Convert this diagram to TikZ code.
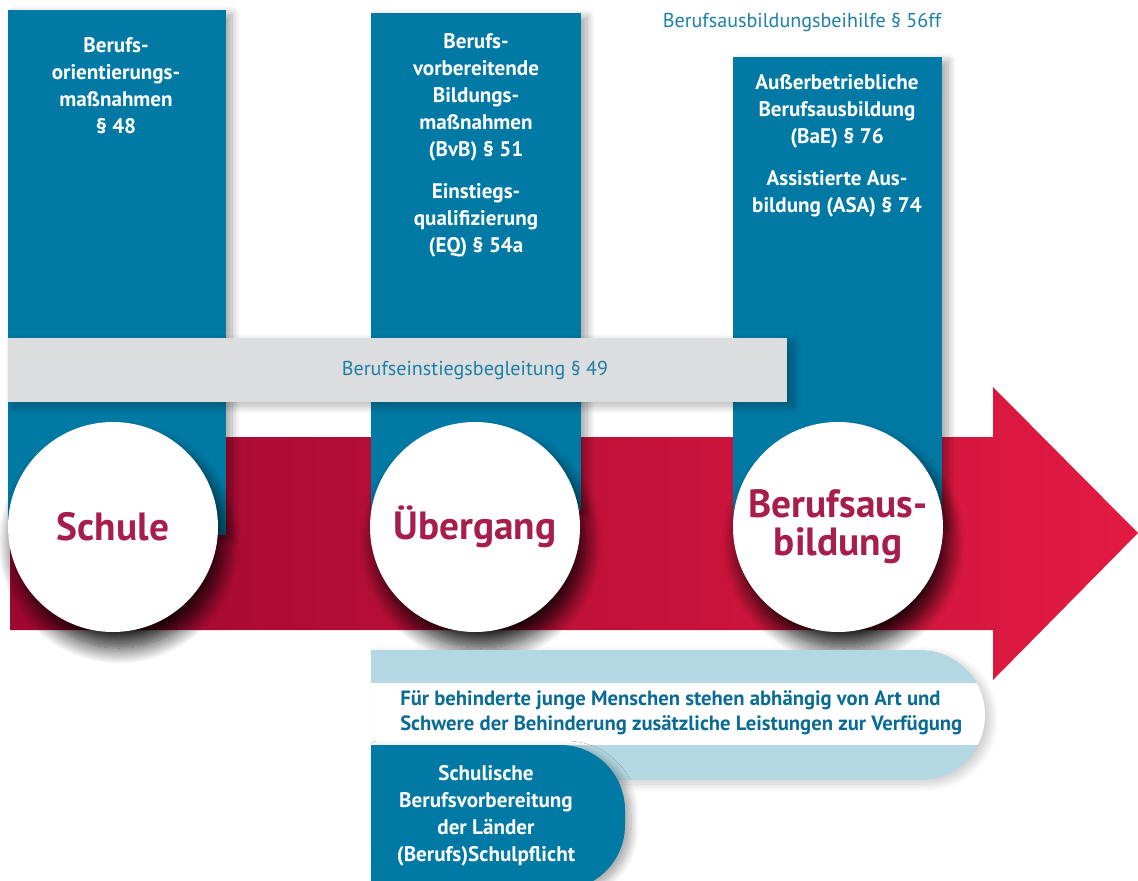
\documentclass[tikz,border=0pt]{standalone}
\usepackage{fontspec}
\setmainfont{PT Sans}
\usetikzlibrary{positioning,shadows.blur}
\definecolor{boxblue}{RGB}{0,121,164}
\definecolor{barcol}{RGB}{220,221,223}
\definecolor{paleblue}{RGB}{179,216,227}
\definecolor{noteblue}{RGB}{28,127,166}
\definecolor{hintblue}{RGB}{10,108,148}
\definecolor{stationred}{RGB}{167,30,74}
\definecolor{arrowdark}{RGB}{158,8,48}
\definecolor{arrowlight}{RGB}{226,26,66}
\tikzset{
  softshadow/.style={blur shadow={shadow xshift=1.5mm, shadow yshift=-1mm, shadow blur radius=2mm,
    shadow blur steps=10, shadow opacity=#1}},
  softshadow/.default=35,
  pillar/.style={fill=boxblue, softshadow},
  pillartext/.style={text=white, font=\bfseries\fontsize{15}{19.2}\selectfont, align=center, inner sep=0pt},
  station/.style={circle, fill=white, minimum size=52.5mm, inner sep=0pt, text=stationred,
    font=\bfseries\fontsize{28}{27}\selectfont, align=center,
    blur shadow={shadow xshift=1.5mm, shadow yshift=-4mm, shadow blur radius=4mm,
      shadow blur steps=16, shadow opacity=85}},
  note/.style={text=noteblue, font=\fontsize{14.3}{17}\selectfont, inner sep=0pt},
}
\begin{document}
\begin{tikzpicture}[x=0.25mm,y=-0.25mm]
\useasboundingbox (0,0) rectangle (1138,880);
% the long arrow
\shade[left color=arrowdark, right color=arrowlight] (10,437) -- (993,437) -- (993,387) -- (1138,533)
  -- (993,680) -- (993,630) -- (10,630) -- cycle;
% pillars
\fill[pillar] (8,10) rectangle (226,535);
\fill[pillar] (371,13) rectangle (581,510);
\fill[pillar] (733,57) rectangle (942,525);
\node[pillartext, anchor=north] (bom) at (116,37) {Berufs-\\orientierungs-\\maßnahmen\\\S~48};
\node[pillartext, anchor=north] (bvb) at (476,33) {Berufs-\\vorbereitende\\Bildungs-\\maßnahmen\\(BvB) \S~51};
\node[pillartext, below=5.5mm of bvb] (eq) {Einstiegs-\\qualifizierung\\(EQ) \S~54a};
\node[pillartext, anchor=north] (bae) at (837,74) {Außerbetriebliche\\Berufsausbildung\\(BaE) \S~76};
\node[pillartext, below=5.5mm of bae] (asa) {Assistierte Aus-\\bildung (ASA) \S~74};
\node[note] (bab) at (802,22) {Berufsausbildungsbeihilfe \S~56ff};
% bar
\fill[barcol, softshadow=30] (8,338) rectangle (787,402);
\node[note] (beb) at (475,370) {Berufseinstiegsbegleitung \S~49};
% stations
\node[station] (schule) at (113,527) {Schule};
\node[station] (uebergang) at (475,527) {Übergang};
\node[station] (ausbildung) at (838,527) {Berufsaus-\\bildung};
% bottom boxes
\fill[paleblue, softshadow=20]
  (371,650) -- (920,650) arc[start angle=-90, end angle=90, radius=65] -- (371,780) -- cycle;
\begin{scope}
  \clip (371,650) -- (920,650) arc[start angle=-90, end angle=90, radius=65] -- (371,780) -- cycle;
  \fill[white] (371,683) rectangle (1000,745);
\end{scope}
\node[anchor=west, align=left, inner sep=0pt, text=hintblue, font=\bfseries\fontsize{14.7}{17.5}\selectfont] (hint) at (400,713)
  {Für behinderte junge Menschen stehen abhängig von Art und\\Schwere der Behinderung zusätzliche Leistungen zur Verfügung};
\fill[boxblue, softshadow]
  (371,745) -- (560,745) arc[start angle=-90, end angle=0, radius=65] -- (625,825)
  arc[start angle=0, end angle=90, radius=65] -- (371,890) -- cycle;
\node[pillartext] (land) at (486,816) {Schulische\\Berufsvorbereitung\\der Länder\\(Berufs)Schulpflicht};
\end{tikzpicture}
\end{document}
